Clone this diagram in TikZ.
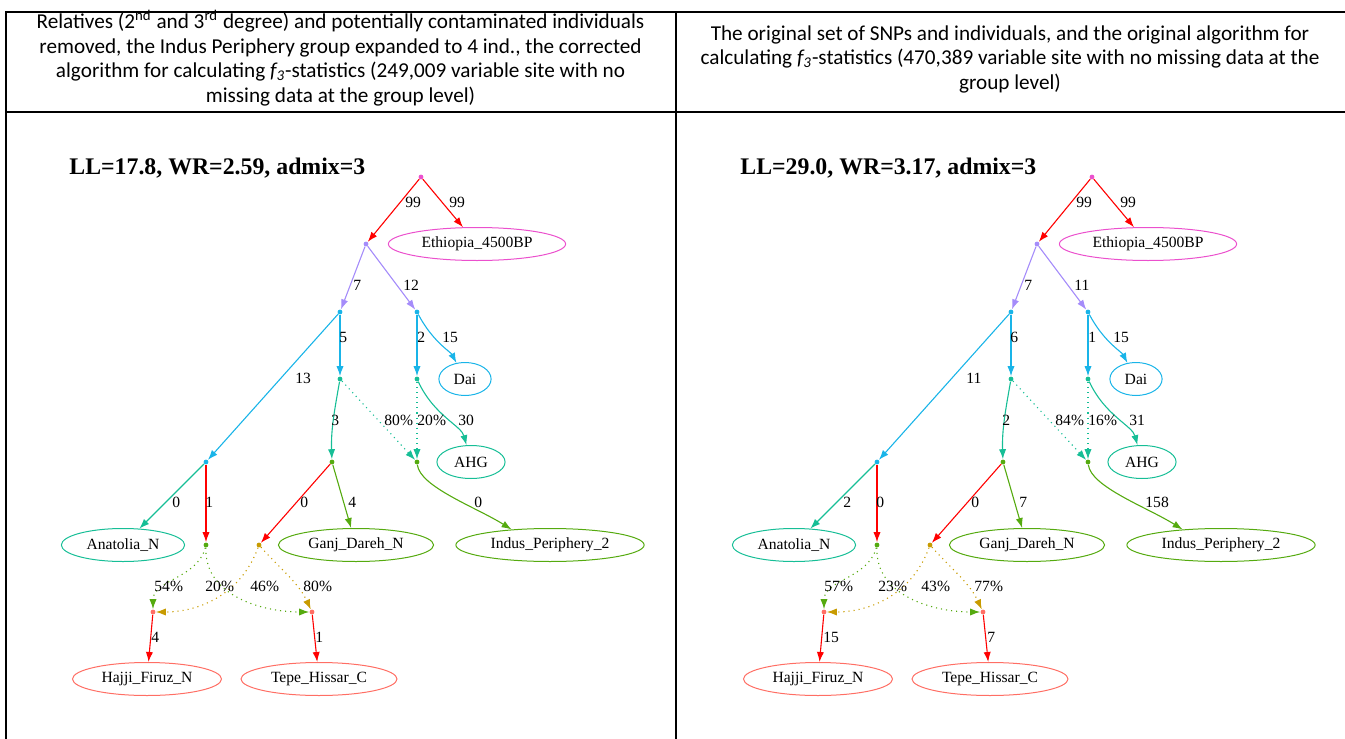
\documentclass[tikz,border=0pt]{standalone}
\usepackage{fontspec}
\setmainfont{Liberation Serif}
\newfontfamily\calibfont{Carlito}
\usetikzlibrary{arrows.meta,shapes.geometric}

\definecolor{redE}{RGB}{255,0,0}
\definecolor{pinkE}{RGB}{235,80,205}
\definecolor{lavE}{RGB}{165,140,250}
\definecolor{cyanE}{RGB}{25,180,232}
\definecolor{tealE}{RGB}{22,190,150}
\definecolor{greenE}{RGB}{85,170,15}
\definecolor{goldE}{RGB}{200,155,0}
\definecolor{salmonE}{RGB}{255,110,100}

\newcommand\graphfont{\fontsize{7.8}{9}\selectfont}

% the tree is the same in both panels, only the edge weights differ
\newcommand\admixtree{%
  \node[pt=pinkE] (r) at (421,-177) {};
  \node[pt=lavE] (v1) at (366,-244) {};
  \node[pop=pinkE] (eth) at (477,-244) {Ethiopia\_4500BP};
  \node[pt=cyanE] (v2) at (340,-312) {};
  \node[pt=cyanE] (v3) at (417,-312) {};
  \node[pt=tealE] (v4) at (340,-379) {};
  \node[pt=tealE] (v5) at (417,-379) {};
  \node[pop=cyanE] (dai) at (465,-379) {Dai};
  \node[pt=cyanE] (v6) at (206,-462) {};
  \node[pt=greenE] (v7) at (332,-462) {};
  \node[pt=greenE] (v8) at (417,-462) {};
  \node[pop=tealE] (ahg) at (471,-462) {AHG};
  \node[pop=tealE] (ana) at (123,-545) {Anatolia\_N};
  \node[pt=greenE] (v9) at (206,-545) {};
  \node[pt=goldE] (v10) at (259,-545) {};
  \node[pop=greenE] (ganj) at (356,-545) {Ganj\_Dareh\_N};
  \node[pop=greenE] (indus) at (550,-545) {Indus\_Periphery\_2};
  \node[pt=salmonE] (j1) at (153,-612) {};
  \node[pt=salmonE] (j2) at (312,-612) {};
  \node[pop=salmonE] (hajji) at (147,-679) {Hajji\_Firuz\_N};
  \node[pop=salmonE] (tepe) at (319,-679) {Tepe\_Hissar\_C};
  %
  \draw[ed=redE] (r) -- (v1);
  \draw[ed=redE] (r) -- (eth);
  \draw[ed=lavE] (v1) -- (v2);
  \draw[ed=lavE] (v1) -- (v3);
  \draw[ed=cyanE] (v2) -- (v4);
  \draw[ed=cyanE] (v3) -- (v5);
  \draw[ed=cyanE] (v3) to[out=-62,in=118] (dai);
  \draw[ed=cyanE] (v2) -- (v6);
  \draw[ed=tealE] (v4) to[out=-100,in=92] (v7);
  \draw[mix=tealE] (v4) -- (v8);
  \draw[mix=tealE] (v5) -- (v8);
  \draw[ed=tealE] (v5) to[out=-65,in=105] (ahg);
  \draw[ed=tealE] (v6) -- (ana);
  \draw[ed=redE] (v6) -- (v9);
  \draw[ed=redE] (v7) -- (v10);
  \draw[ed=greenE] (v7) -- (ganj);
  \draw[ed=greenE] (v8) .. controls +(3,-25) and +(-35,22) .. (indus.158);
  \draw[mix=greenE] (v9) to[out=-105,in=90] (j1);
  \draw[mix=greenE] (v9) to[out=-92,in=180] (j2);
  \draw[mix=goldE] (v10) to[out=-110,in=0] (j1);
  \draw[mix=goldE] (v10) to[out=-48,in=115] (j2);
  \draw[ed=redE] (j1) -- (hajji);
  \draw[ed=redE] (j2) -- (tepe);
}

\begin{document}
\begin{tikzpicture}[x=0.5pt,y=0.5pt,
  pt/.style={circle,inner sep=0pt,minimum size=2.4pt,fill=#1},
  pop/.style={ellipse,draw=#1,line width=0.5pt,inner xsep=3.6pt,inner ysep=0pt,minimum height=16.5pt,font=\graphfont},
  ed/.style={draw=#1,line width=0.55pt,-{Latex[length=5pt,width=3.6pt]}},
  mix/.style={ed=#1,dotted},
  lbl/.style={anchor=west,inner sep=0pt,font=\graphfont},
  hdr/.style={align=center,inner sep=0pt,font=\calibfont\fontsize{10.6}{12.25}\selectfont},
  ttl/.style={anchor=west,inner sep=0pt,font=\fontsize{11.9}{14}\selectfont\bfseries}]

  \useasboundingbox (0,0) rectangle (1345,-739);

  % table
  \draw[line width=1.2pt] (5,-12) -- (1345,-12);
  \draw[line width=1.2pt] (5,-112) -- (1345,-112);
  \draw[line width=1.2pt] (6,-12) -- (6,-739);
  \draw[line width=1.2pt] (676,-12) -- (676,-739);

  \node[hdr] (headL) at (340.5,-58) {Relatives (2\textsuperscript{nd} and 3\textsuperscript{rd} degree) and potentially contaminated individuals\\
    removed, the Indus Periphery group expanded to 4 ind., the corrected\\
    algorithm for calculating \textit{f\textsubscript{3}}-statistics (249,009 variable site with no\\
    missing data at the group level)};
  \node[hdr] (headR) at (1010,-59) {The original set of SNPs and individuals, and the original algorithm for\\
    calculating \textit{f\textsubscript{3}}-statistics (470,389 variable site with no missing data at the\\
    group level)};

  % left panel
  \begin{scope}[name prefix=L-]
    \node[ttl] (title) at (69,-168) {LL=17.8, WR=2.59, admix=3};
    \admixtree
    \node[lbl] (w1) at (405,-202) {99};
    \node[lbl] (w2) at (449,-202) {99};
    \node[lbl] (w3) at (353,-285) {7};
    \node[lbl] (w4) at (403,-285) {12};
    \node[lbl] (w5) at (339,-337) {5};
    \node[lbl] (w6) at (417,-337) {2};
    \node[lbl] (w7) at (442,-337) {15};
    \node[lbl] (w8) at (295,-378) {13};
    \node[lbl] (w9) at (331,-420) {3};
    \node[lbl] (w10) at (384,-420) {80\%};
    \node[lbl] (w11) at (417,-420) {20\%};
    \node[lbl] (w12) at (458,-420) {30};
    \node[lbl] (w13) at (172,-502) {0};
    \node[lbl] (w14) at (205,-502) {1};
    \node[lbl] (w15) at (300,-502) {0};
    \node[lbl] (w16) at (348,-502) {4};
    \node[lbl] (w17) at (474,-502) {0};
    \node[lbl] (w18) at (154,-586) {54\%};
    \node[lbl] (w19) at (205,-586) {20\%};
    \node[lbl] (w20) at (250,-586) {46\%};
    \node[lbl] (w21) at (303,-586) {80\%};
    \node[lbl] (w22) at (151,-637) {4};
    \node[lbl] (w23) at (315,-637) {1};
  \end{scope}

  % right panel
  \begin{scope}[xshift=335.5pt,name prefix=R-]
    \node[ttl] (title) at (69,-168) {LL=29.0, WR=3.17, admix=3};
    \admixtree
    \node[lbl] (w1) at (405,-202) {99};
    \node[lbl] (w2) at (449,-202) {99};
    \node[lbl] (w3) at (353,-285) {7};
    \node[lbl] (w4) at (403,-285) {11};
    \node[lbl] (w5) at (339,-337) {6};
    \node[lbl] (w6) at (417,-337) {1};
    \node[lbl] (w7) at (442,-337) {15};
    \node[lbl] (w8) at (295,-378) {11};
    \node[lbl] (w9) at (331,-420) {2};
    \node[lbl] (w10) at (384,-420) {84\%};
    \node[lbl] (w11) at (417,-420) {16\%};
    \node[lbl] (w12) at (458,-420) {31};
    \node[lbl] (w13) at (172,-502) {2};
    \node[lbl] (w14) at (205,-502) {0};
    \node[lbl] (w15) at (300,-502) {0};
    \node[lbl] (w16) at (348,-502) {7};
    \node[lbl] (w17) at (474,-502) {158};
    \node[lbl] (w18) at (153,-586) {57\%};
    \node[lbl] (w19) at (207,-586) {23\%};
    \node[lbl] (w20) at (250,-586) {43\%};
    \node[lbl] (w21) at (303,-586) {77\%};
    \node[lbl] (w22) at (152,-637) {15};
    \node[lbl] (w23) at (316,-637) {7};
  \end{scope}

\end{tikzpicture}
\end{document}
